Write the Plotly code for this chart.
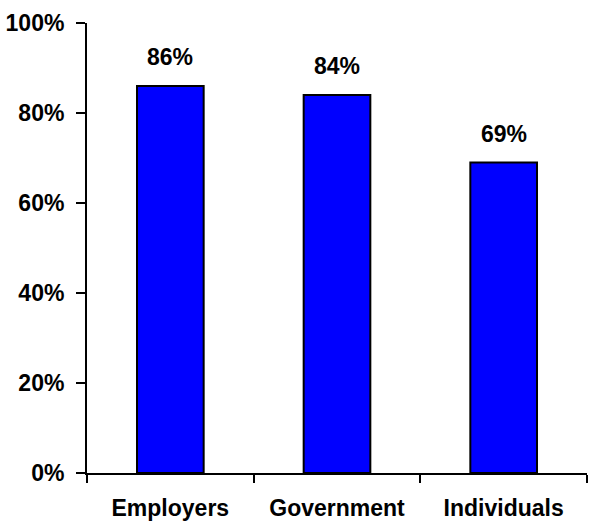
import plotly.graph_objects as go

categories = ["Employers", "Government", "Individuals"]
values = [86, 84, 69]
ytick_vals = [0, 20, 40, 60, 80, 100]
ytick_text = [f"{v}%" for v in ytick_vals]

font_family = "Liberation Sans, Arial, sans-serif"
font_size = 23

fig = go.Figure()
fig.add_trace(go.Bar(
    x=categories,
    y=values,
    width=0.4,
    marker=dict(color="#0000FF", line=dict(color="black", width=2)),
    hoverinfo="skip",
))

for c, v in zip(categories, values):
    fig.add_annotation(
        x=c, y=v, text=f"<b>{v}%</b>", showarrow=False,
        yanchor="bottom", yshift=14,
        font=dict(family=font_family, size=font_size, color="black"),
    )

fig.update_layout(
    width=589, height=523,
    margin=dict(l=87, r=2, t=23, b=50),
    paper_bgcolor="white", plot_bgcolor="white",
    showlegend=False,
    font=dict(family=font_family, size=font_size, color="black"),
    bargap=0.6,
)
fig.update_xaxes(
    showline=True, linecolor="black", linewidth=2,
    ticks="outside", tickson="boundaries", ticklen=8, tickwidth=2, tickcolor="black",
    ticklabelstandoff=13,
    tickfont=dict(family=font_family, size=font_size, color="black", weight="bold"),
    showgrid=False, zeroline=False,
)
fig.update_yaxes(
    range=[0, 100], tickvals=ytick_vals, ticktext=ytick_text,
    showline=True, linecolor="black", linewidth=2,
    ticks="outside", ticklen=9, tickwidth=2, tickcolor="black",
    ticklabelstandoff=7,
    tickfont=dict(family=font_family, size=font_size, color="black", weight="bold"),
    showgrid=False, zeroline=False,
)

fig.write_html("out.html")
